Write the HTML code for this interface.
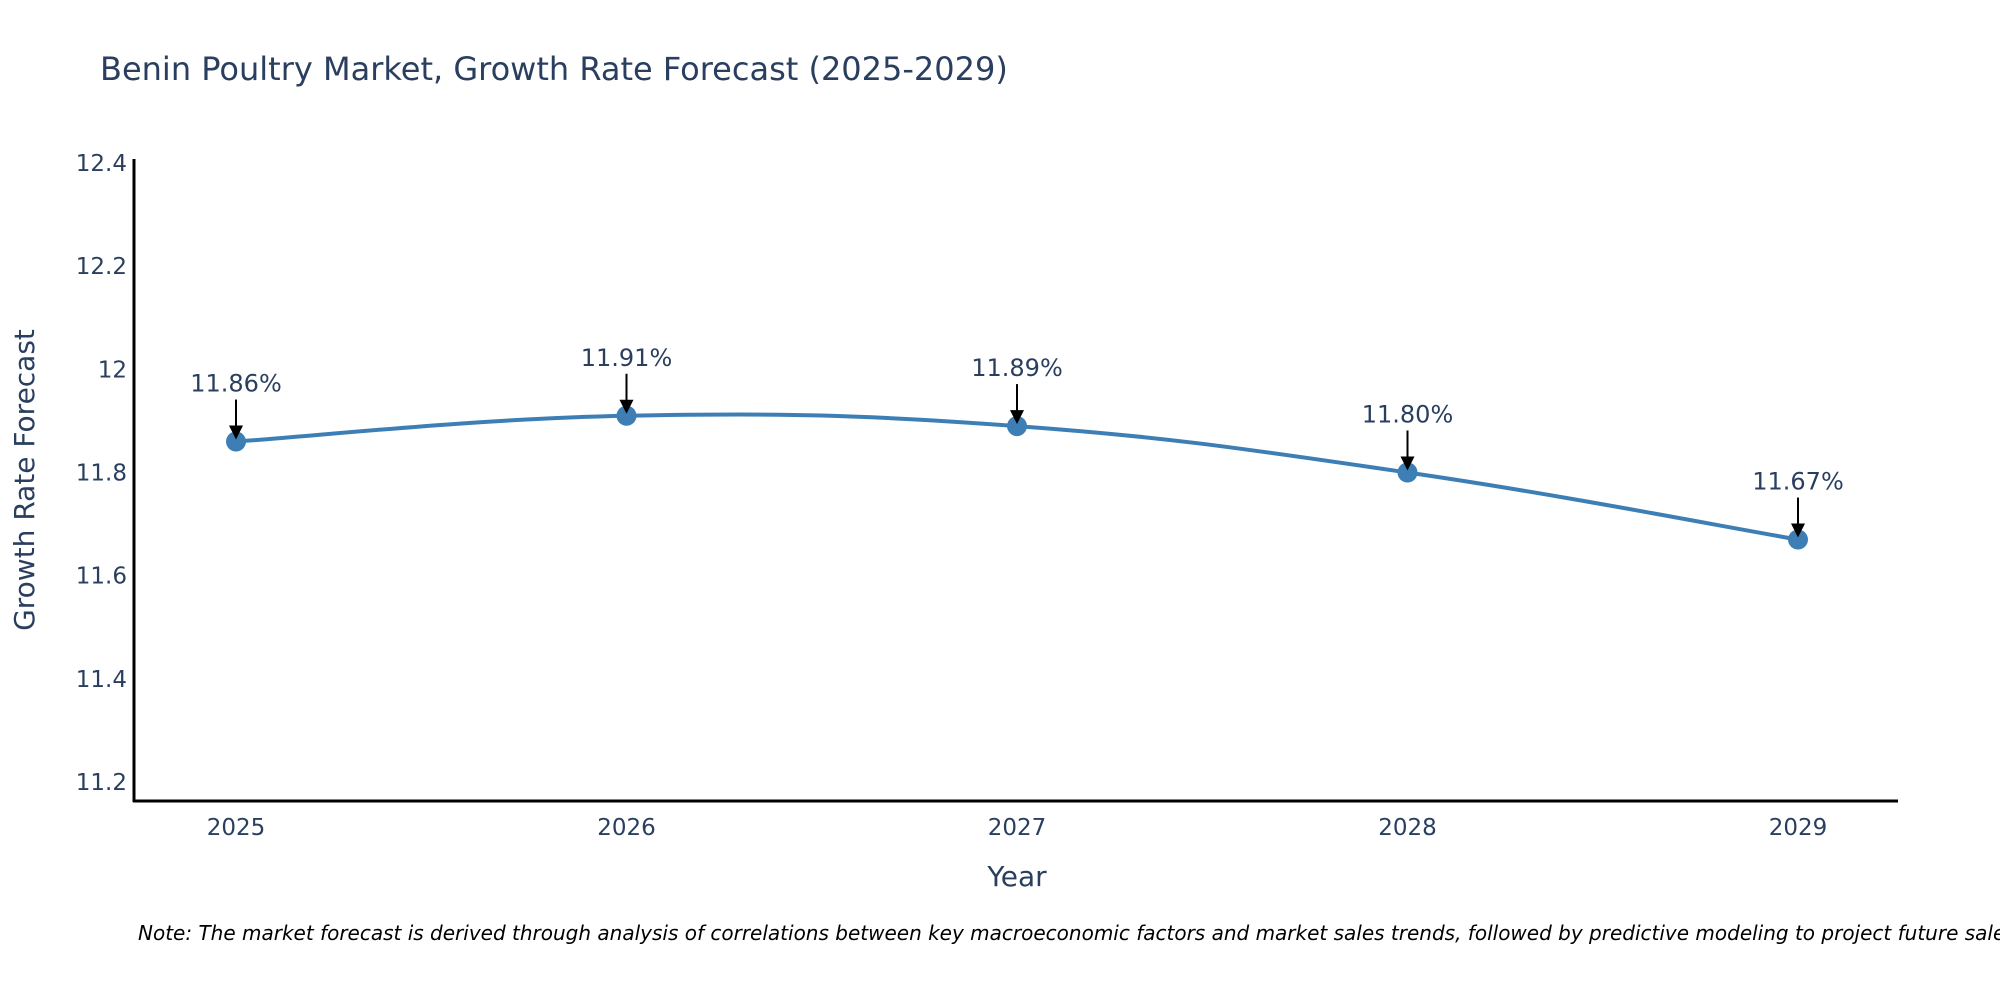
<!DOCTYPE html>
<html><head><meta charset="utf-8"><style>
body{margin:0;background:#fff;}
svg{display:block;font-family:"DejaVu Sans","Liberation Sans",sans-serif;}
</style></head><body>
<svg id="chart" width="2000" height="1000">
<text x="100" y="80" font-size="32" fill="#2a3f5f">Benin Poultry Market, Growth Rate Forecast (2025-2029)</text>
<g id="yticks"></g>
<g id="xticks"></g>
<line x1="134" y1="159" x2="134" y2="802" stroke="#000" stroke-width="3"/>
<line x1="133" y1="801" x2="1898" y2="801" stroke="#000" stroke-width="3"/>
<path id="line" fill="none" stroke="#3d7fb5" stroke-width="4"/>
<g id="marks"></g>
<text transform="translate(34,480) rotate(-90)" text-anchor="middle" font-size="28" fill="#2a3f5f">Growth Rate Forecast</text>
<text x="1017" y="886" text-anchor="middle" font-size="28" fill="#2a3f5f">Year</text>
<text x="138" y="940" font-size="20" font-style="italic" fill="#000">Note: The market forecast is derived through analysis of correlations between key macroeconomic factors and market sales trends, followed by predictive modeling to project future sales.</text>
</svg>
<script>
const years = [2025, 2026, 2027, 2028, 2029];
const values = [11.86, 11.91, 11.89, 11.80, 11.67];
const yTickValues = [11.2, 11.4, 11.6, 11.8, 12, 12.2, 12.4];
const yTickLabels = ["11.2", "11.4", "11.6", "11.8", "12", "12.2", "12.4"];

const NS = "http://www.w3.org/2000/svg";
function xScale(i){ return 236 + (i - 2025) * (1798 - 236) / 4; }
function yScale(v){ return 782 - (v - 11.2) * (782 - 163) / 1.2; }
function mk(tag, attrs, parent){ const e = document.createElementNS(NS, tag); for (const k in attrs) e.setAttribute(k, attrs[k]); parent.appendChild(e); return e; }

const yt = document.getElementById('yticks');
yTickValues.forEach((v, i) => {
  const t = mk('text', {x: 127, y: yScale(v) + 8, 'text-anchor': 'end', 'font-size': 23, fill: '#2a3f5f'}, yt);
  
  
  t.textContent = yTickLabels[i];
});
const xt = document.getElementById('xticks');
years.forEach(y => {
  const t = mk('text', {x: xScale(y), y: 835, 'text-anchor': 'middle', 'font-size': 23, fill: '#2a3f5f'}, xt);
  
  
  t.textContent = String(y);
});

const pts = years.map((y, i) => [xScale(y), yScale(values[i])]);
let d = `M${pts[0][0]},${pts[0][1]}`;
const s = 0.2;
for (let i = 0; i < pts.length - 1; i++) {
  const p0 = pts[Math.max(0, i - 1)], p1 = pts[i], p2 = pts[i + 1], p3 = pts[Math.min(pts.length - 1, i + 2)];
  const c1 = [p1[0] + (p2[0] - p0[0]) * s, p1[1] + (p2[1] - p0[1]) * s];
  const c2 = [p2[0] - (p3[0] - p1[0]) * s, p2[1] - (p3[1] - p1[1]) * s];
  d += ` C${c1[0]},${c1[1]} ${c2[0]},${c2[1]} ${p2[0]},${p2[1]}`;
}
document.getElementById('line').setAttribute('d', d);

const mg = document.getElementById('marks');
pts.forEach((p, i) => {
  const c = mk('circle', {cx: p[0], cy: p[1], r: 10, fill: '#3d7fb5'}, mg);
  
  
  const l = mk('line', {x1: p[0], y1: p[1] - 42, x2: p[0], y2: p[1] - 14, stroke: '#000', 'stroke-width': 2}, mg);
  
  
  const a = mk('polygon', {points: `${p[0]-7},${p[1]-16} ${p[0]+7},${p[1]-16} ${p[0]},${p[1]-2}`, fill: '#000'}, mg);
  
  
  const t = mk('text', {x: p[0], y: p[1] - 50, 'text-anchor': 'middle', 'font-size': 24, fill: '#2a3f5f'}, mg);
  
  
  t.textContent = values[i].toFixed(2) + '%';
});
</script>
</body></html>
